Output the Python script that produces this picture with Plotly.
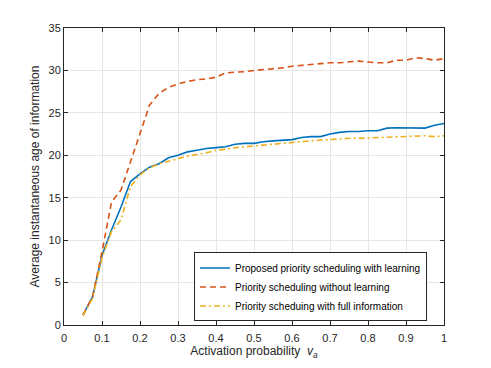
import plotly.graph_objects as go

activation = [0.05, 0.075, 0.1, 0.125, 0.15, 0.175, 0.2, 0.225, 0.25, 0.275,
              0.3, 0.325, 0.35, 0.375, 0.4, 0.425, 0.45, 0.475, 0.5, 0.525,
              0.55, 0.575, 0.6, 0.625, 0.65, 0.675, 0.7, 0.725, 0.75, 0.775,
              0.8, 0.825, 0.85, 0.875, 0.9, 0.925, 0.95, 0.975, 1.0]

proposed_learning = [1.2, 3.3, 8.2, 11.2, 13.9, 16.9, 17.8, 18.6, 19.0, 19.7,
                     20.0, 20.4, 20.6, 20.8, 20.9, 21.0, 21.3, 21.4, 21.4, 21.6,
                     21.7, 21.8, 21.85, 22.1, 22.2, 22.2, 22.5, 22.7, 22.8, 22.8,
                     22.9, 22.9, 23.2, 23.25, 23.25, 23.2, 23.2, 23.55, 23.75]

without_learning = [1.2, 3.3, 8.6, 14.5, 15.9, 19.3, 22.6, 25.9, 27.3, 28.0,
                    28.4, 28.7, 28.9, 29.0, 29.2, 29.7, 29.8, 29.85, 30.0, 30.1,
                    30.2, 30.3, 30.5, 30.6, 30.65, 30.8, 30.9, 30.9, 31.0, 31.1,
                    31.0, 30.9, 30.9, 31.2, 31.2, 31.5, 31.4, 31.2, 31.4]

full_information = [1.1, 3.1, 7.9, 11.0, 12.4, 16.3, 17.7, 18.5, 19.0, 19.3,
                    19.6, 19.9, 20.1, 20.3, 20.6, 20.7, 20.9, 21.0, 21.1, 21.2,
                    21.35, 21.4, 21.5, 21.65, 21.75, 21.8, 21.85, 21.95, 22.0, 22.0,
                    22.05, 22.05, 22.15, 22.2, 22.25, 22.3, 22.3, 22.2, 22.3]

names = ["Proposed priority scheduling with learning",
         "Priority scheduling without learning",
         "Priority scheduing with full information"]

x_ticks = [0, 0.1, 0.2, 0.3, 0.4, 0.5, 0.6, 0.7, 0.8, 0.9, 1]
x_ticklabels = ["0", "0.1", "0.2", "0.3", "0.4", "0.5", "0.6", "0.7", "0.8", "0.9", "1"]
y_ticks = [0, 5, 10, 15, 20, 25, 30, 35]

FONT = "Liberation Sans, Arial, sans-serif"

fig = go.Figure()
fig.add_trace(go.Scatter(x=activation, y=proposed_learning, mode="lines", name=names[0],
                         line=dict(color="#0072BD", width=1.6)))
fig.add_trace(go.Scatter(x=activation, y=without_learning, mode="lines", name=names[1],
                         line=dict(color="#D95319", width=1.6, dash="6px,4px")))
fig.add_trace(go.Scatter(x=activation, y=full_information, mode="lines", name=names[2],
                         line=dict(color="#EDB120", width=1.6, dash="6px,3px,2px,3px")))

axis_common = dict(showline=True, linecolor="#262626", linewidth=1, mirror="ticks",
                   ticks="inside", ticklen=4, tickcolor="#262626",
                   showgrid=True, gridcolor="#E6E6E6", gridwidth=1, zeroline=False,
                   tickfont=dict(family=FONT, size=11, color="#262626"))

fig.update_xaxes(range=[0, 1], tickvals=x_ticks, ticktext=x_ticklabels,
                 ticklabelstandoff=3,
                 title=dict(text="Activation probability  <i>v</i><sub><i>a</i></sub>",
                            font=dict(family=FONT, size=12, color="#262626"),
                            standoff=1),
                 **axis_common)
fig.update_yaxes(range=[0, 35], tickvals=y_ticks,
                 title=dict(text="Average instantaneous age of information",
                            font=dict(family=FONT, size=12, color="#262626"),
                            standoff=6),
                 **axis_common)

fig.update_layout(
    width=483, height=360,
    margin=dict(l=56, r=47, t=20, b=43),
    paper_bgcolor="white", plot_bgcolor="white",
    showlegend=True,
    legend=dict(x=0.342, y=0.012, xanchor="left", yanchor="bottom",
                bgcolor="white", bordercolor="#262626", borderwidth=1,
                font=dict(family=FONT, size=10, color="#000000"),
                itemwidth=30, tracegroupgap=0),
)

fig.write_html("out.html")
